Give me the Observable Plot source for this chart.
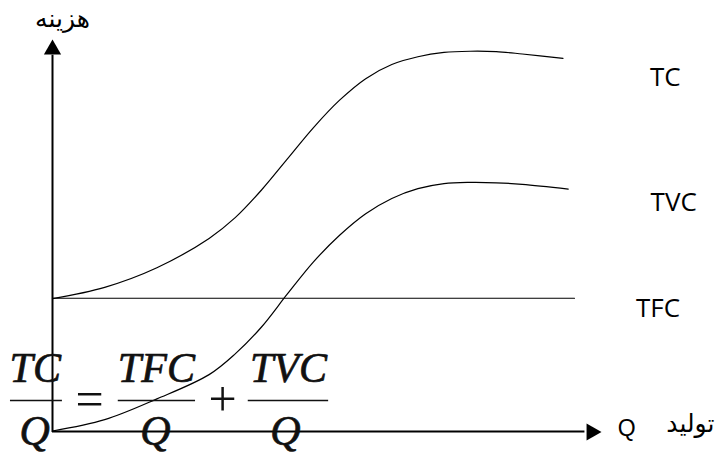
<!DOCTYPE html>
<html>
<head>
<meta charset="utf-8">
<script src="https://cdn.jsdelivr.net/npm/d3@7"></script>
<script src="https://cdn.jsdelivr.net/npm/@observablehq/plot@0.6"></script>
<style>
  html, body { margin: 0; padding: 0; background: #fff; }
  svg { display: block; }
</style>
</head>
<body>
<div id="chart"></div>
<script>
// ---- data (Q = output, cost in arbitrary units) ----
const tcQ    = [0, 1, 2, 3, 3.5, 4, 4.5, 5, 5.5, 6, 6.5, 7, 7.5, 8, 8.5, 9, 9.78];
const tcCost = [33.8, 36.7, 41.7, 49.2, 54.5, 61.5, 69.5, 77.5, 84.5, 90, 93.6, 95.6, 96.7, 97.0, 96.9, 96.3, 95.2];
const tvcQ    = [0, 1, 2, 3, 3.5, 4, 4.5, 5, 5.5, 6, 6.5, 7, 7.5, 8, 8.5, 9, 9.88];
const tvcCost = [0, 2.9, 8.2, 14.4, 19.7, 26.5, 35.0, 43.2, 50.0, 55.5, 59.4, 61.9, 63.2, 63.5, 63.4, 63.0, 61.8];
const tfcQ    = [0, 10];
const tfcCost = [33.9, 33.9];
const seriesNames = ["TC", "TVC", "TFC"];
const yAxisLabel = "هزینه";
const xAxisLabel = "تولید";
const xAxisSymbol = "Q";

const toRows = (qs, cs) => qs.map((q, i) => ({q, c: cs[i]}));
const tc = toRows(tcQ, tcCost);
const tvc = toRows(tvcQ, tvcCost);
const tfc = toRows(tfcQ, tfcCost);

const sans = "'Open Sans', 'Noto Sans', sans-serif";
const arial = "'Liberation Sans', 'DejaVu Sans', sans-serif";
const serif = "'Liberation Serif', 'DejaVu Serif', serif";

const seriesLabels = [
  {name: seriesNames[0], q: 11.74, c: 88.25},
  {name: seriesNames[1], q: 11.9, c: 56.3},
  {name: seriesNames[2], q: 11.6, c: 29.0}
];

// formula TC/Q = TFC/Q + TVC/Q
const numer = [
  {t: "TC", q: -0.33},
  {t: "TFC", q: 1.99},
  {t: "TVC", q: 4.52}
];
const denomQ = [-0.34, 1.97, 4.46];
const bars = [
  {x1: -0.805, x2: 0.19},
  {x1: 1.26, x2: 2.74},
  {x1: 3.75, x2: 5.29}
];
const ops = [
  {t: "=", q: 0.71},
  {t: "+", q: 3.26}
];

const chart = Plot.plot({
  width: 718,
  height: 455,
  margin: 0,
  style: {background: "#fff", overflow: "visible"},
  x: {domain: [0, 10], range: [52, 574], axis: null},
  y: {domain: [0, 100], range: [430.5, 39], axis: null},
  marks: [
    // axes
    Plot.ruleX([0], {y1: -0.4, y2: 96, stroke: "#000", strokeWidth: 2}),
    Plot.ruleY([0], {x1: 0, x2: 10.2, y: 0, dy: 0.5, stroke: "#000", strokeWidth: 2}),
    Plot.dot([{q: 0, c: 100}], {x: "q", y: "c", symbol: "triangle", r: 6.4, fill: "#000", stroke: "none", dy: 10}),
    Plot.dot([{q: 10.48, c: 0}], {x: "q", y: "c", symbol: "triangle", r: 6.4, fill: "#000", stroke: "none", rotate: 90, dx: -8, dy: 1}),
    // curves
    Plot.line(tfc, {x: "q", y: "c", stroke: "#000", strokeWidth: 1.1}),
    Plot.line(tc, {x: "q", y: "c", stroke: "#000", strokeWidth: 1.2, curve: "catmull-rom"}),
    Plot.line(tvc, {x: "q", y: "c", stroke: "#000", strokeWidth: 1.2, curve: "catmull-rom"}),
    // series labels
    Plot.text(seriesLabels, {x: "q", y: "c", text: "name", lineAnchor: "bottom", textAnchor: "middle",
      fontFamily: sans, fontSize: 26, fill: "#000"}),
    // axis labels
    Plot.text([yAxisLabel], {x: 0.19, y: 103.3, text: d => d, lineAnchor: "bottom", textAnchor: "middle",
      fontFamily: arial, fontSize: 25, fill: "#000"}),
    Plot.text([xAxisSymbol], {x: 11.0, y: -1.4, text: d => d, lineAnchor: "bottom", textAnchor: "middle",
      fontFamily: arial, fontSize: 23, fill: "#000"}),
    Plot.text([xAxisLabel], {x: 12.22, y: -0.2, text: d => d, lineAnchor: "bottom", textAnchor: "middle",
      fontFamily: arial, fontSize: 25, fill: "#000"}),
    // formula
    Plot.text(numer, {x: "q", y: 12.6, text: "t", lineAnchor: "bottom", textAnchor: "middle",
      fontFamily: serif, fontStyle: "italic", fontSize: 42, fill: "#111", stroke: "#111", strokeWidth: 0.7}),
    Plot.text(denomQ, {x: d => d, y: -3.5, text: () => "Q", lineAnchor: "bottom", textAnchor: "middle",
      fontFamily: serif, fontStyle: "italic", fontSize: 42, fill: "#111", stroke: "#111", strokeWidth: 0.7}),
    Plot.ruleY(bars, {x1: "x1", x2: "x2", y: 7.8, stroke: "#111", strokeWidth: 1.6}),
    Plot.text(ops, {x: "q", y: 7.8, text: "t", lineAnchor: "middle", textAnchor: "middle",
      fontFamily: serif, fontSize: 50, fill: "#111"})
  ]
});
document.getElementById("chart").appendChild(chart);
</script>
</body>
</html>
